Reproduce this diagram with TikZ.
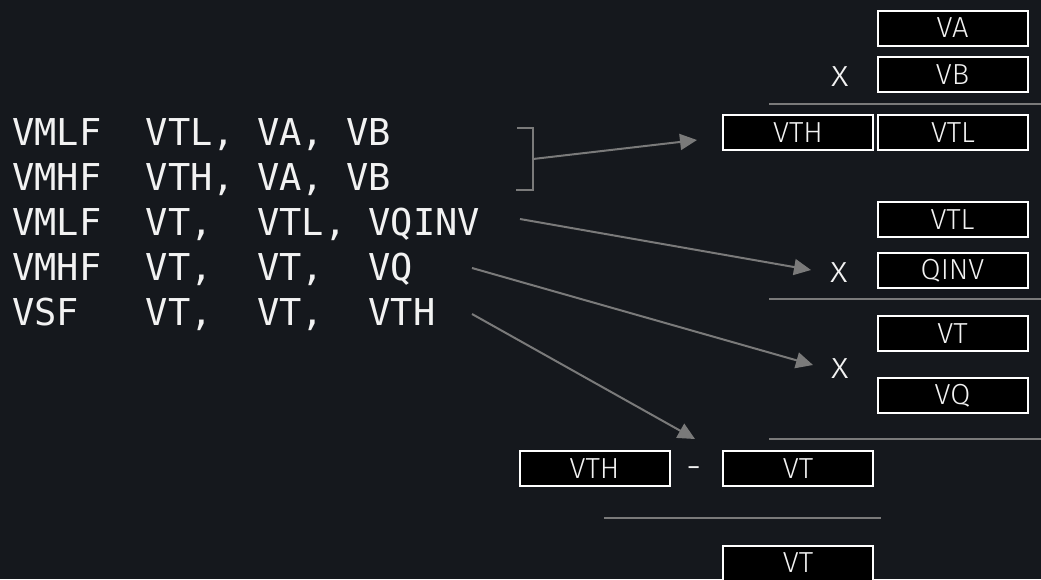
\documentclass[tikz,border=0pt]{standalone}
\usepackage{fontspec}
\usetikzlibrary{arrows.meta}
\newfontfamily\codefont{DejaVu Sans Mono}
\newfontfamily\boxfont{Fira Sans Light}
\definecolor{bg}{HTML}{15181D}
\definecolor{ln}{HTML}{7A7A7A}
\definecolor{tx}{HTML}{F2F2F2}
\frenchspacing
\tikzset{
  code/.style={anchor=base west, inner sep=0pt, text=tx, font=\frenchspacing\codefont\fontsize{37}{45}\selectfont},
  reg/.style={draw=white, fill=black, line width=2pt, minimum width=150pt, minimum height=35pt, inner sep=0pt, text=tx, font=\boxfont\fontsize{29}{32}\selectfont},
  op/.style={inner sep=0pt, text=tx, font=\boxfont\fontsize{38}{40}\selectfont},
  sep/.style={draw=ln, line width=2pt},
  conn/.style={draw=ln, line width=2pt, -{Triangle[length=17pt,width=16pt]}},
  brk/.style={draw=ln, line width=2pt}
}
\begin{document}
\begin{tikzpicture}[x=1pt,y=-1pt]
\fill[bg] (0,0) rectangle (1041,579);
\useasboundingbox (0,0) rectangle (1041,579);
% code
\node[code] (l1) at (12,145) {VMLF~~VTL,~VA,~VB};
\node[code] (l2) at (12,190) {VMHF~~VTH,~VA,~VB};
\node[code] (l3) at (12,235) {VMLF~~VT,~~VTL,~VQINV};
\node[code] (l4) at (12,280) {VMHF~~VT,~~VT,~~VQ};
\node[code] (l5) at (12,325) {VSF~~~VT,~~VT,~~VTH};
% step 1
\node[reg] (va) at (952.5,28) {VA};
\node[reg] (vb) at (952.5,74.5) {VB};
\node[op] (x1) at (840,77) {x};
\coordinate (s1a) at (769,104);
\coordinate (s1b) at (1041,104);
\draw[sep] (s1a) -- (s1b);
\node[reg] (vth1) at (798,132.5) {VTH};
\node[reg] (vtl1) at (953,132.5) {VTL};
% step 2
\node[reg] (vtl2) at (952.5,219.5) {VTL};
\node[reg] (qinv) at (952.5,270.5) {QINV};
\node[op] (x2) at (839,273) {x};
\coordinate (s2a) at (769,299);
\coordinate (s2b) at (1041,299);
\draw[sep] (s2a) -- (s2b);
% step 3
\node[reg] (vt3) at (952.5,333.5) {VT};
\node[op] (x3) at (840,369) {x};
\node[reg] (vq) at (952.5,395.5) {VQ};
\coordinate (s3a) at (769,439);
\coordinate (s3b) at (1041,439);
\draw[sep] (s3a) -- (s3b);
% step 4
\node[reg] (vth4) at (594.5,468.5) {VTH};
\node[op, anchor=base] (minus) at (694,479) {-};
\node[reg] (vt4) at (798,468.5) {VT};
\coordinate (s4a) at (604,518);
\coordinate (s4b) at (881,518);
\draw[sep] (s4a) -- (s4b);
\node[reg] (vt5) at (798,563) {VT};
% bracket
\coordinate (b1) at (517,128);
\coordinate (b2) at (533,128);
\coordinate (b3) at (533,190);
\coordinate (b4) at (516,190);
\coordinate (bm) at (533,159);
\draw[brk] (b1) -- (b2) -- (b3) -- (b4);
% arrows
\coordinate (t1) at (697,140);
\coordinate (a2) at (520,219);
\coordinate (t2) at (811,270);
\coordinate (a3) at (472,268);
\coordinate (t3) at (813,365);
\coordinate (a4) at (472,314);
\coordinate (t4) at (695,439);
\draw[conn] (bm) -- (t1);
\draw[conn] (a2) -- (t2);
\draw[conn] (a3) -- (t3);
\draw[conn] (a4) -- (t4);
\end{tikzpicture}
\end{document}
